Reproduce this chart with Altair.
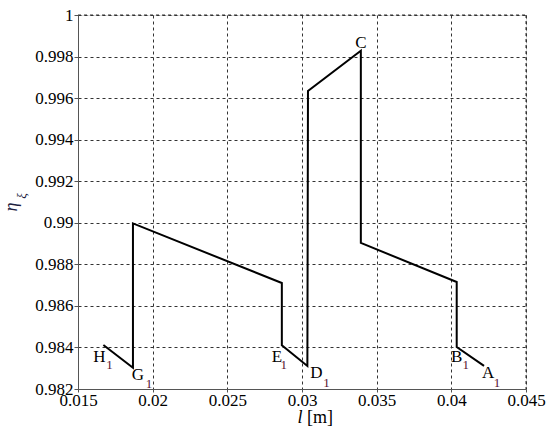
import altair as alt
import pandas as pd

# path of the curve (l [m], eta)
path_l = [0.0167, 0.01868, 0.01868, 0.02865, 0.02865, 0.03036, 0.0304, 0.03394, 0.03394, 0.04036, 0.04036, 0.04219]
path_eta = [0.98412, 0.98302, 0.98997, 0.98710, 0.98410, 0.98311, 0.99634, 0.99828, 0.98903, 0.98715, 0.98402, 0.98311]

# labelled points
lab_name = ["H", "G", "E", "D", "C", "B", "A"]
lab_sub = ["1", "1", "1", "1", "", "1", "1"]
lab_l = [0.0167, 0.01868, 0.02865, 0.03036, 0.03394, 0.04036, 0.04219]
lab_eta = [0.98412, 0.98302, 0.98410, 0.98311, 0.99828, 0.98402, 0.98311]

x_ticks = [0.015, 0.02, 0.025, 0.03, 0.035, 0.04, 0.045]
y_ticks = [0.982, 0.984, 0.986, 0.988, 0.99, 0.992, 0.994, 0.996, 0.998, 1.0]

# label offsets (px): letter and subscript
letter_off = [(-4, 12), (5, 7), (-5, 12), (9, 7), (0, -8), (0, 10), (4, 7)]
sub_off = [(6, 20), (16, 16), (2, 20), (19, 17), (0, 0), (9, 18), (13, 17)]

FONT = "Liberation Serif"
W, H = 448, 374

df = pd.DataFrame({"l": path_l, "eta": path_eta, "order": list(range(len(path_l)))})

xs = alt.Scale(domain=[0.015, 0.045], nice=False, zero=False)
ys = alt.Scale(domain=[0.982, 1.0], nice=False, zero=False)

x_axis = alt.Axis(values=x_ticks, format="~g", title=None, grid=True,
                  gridDash=[3, 3], gridColor="#333333", gridOpacity=1, gridWidth=1,
                  domainColor="#555555", tickColor="#555555", tickSize=3,
                  labelFont=FONT, labelFontSize=17, labelColor="black", labelPadding=0,
                  labelFlush=False)
y_axis = alt.Axis(values=y_ticks, format="~g", title=None, grid=True,
                  gridDash=[3, 3], gridColor="#333333", gridOpacity=1, gridWidth=1,
                  domainColor="#555555", tickColor="#555555", tickSize=4,
                  labelFont=FONT, labelFontSize=17, labelColor="black", labelPadding=1,
                  labelFlush=False)

line = alt.Chart(df).mark_line(color="black", strokeWidth=2).encode(
    x=alt.X("l:Q", scale=xs, axis=x_axis),
    y=alt.Y("eta:Q", scale=ys, axis=y_axis),
    order="order:Q",
)

# top/right dashed border lines
border = alt.Chart(pd.DataFrame({"a": [0]})).mark_rule(strokeDash=[3, 3], color="#333333").encode(
    x=alt.value(0), x2=alt.value(W), y=alt.value(0))
border2 = alt.Chart(pd.DataFrame({"a": [0]})).mark_rule(strokeDash=[3, 3], color="#333333").encode(
    x=alt.value(W), y=alt.value(0), y2=alt.value(H))

layers = [border, border2, line]
for i in range(len(lab_name)):
    d = pd.DataFrame({"l": [lab_l[i]], "eta": [lab_eta[i]], "t": [lab_name[i]]})
    layers.append(alt.Chart(d).mark_text(font=FONT, fontSize=17, color="black", baseline="middle",
                                         dx=letter_off[i][0], dy=letter_off[i][1]).encode(
        x=alt.X("l:Q", scale=xs), y=alt.Y("eta:Q", scale=ys), text="t:N"))
    if lab_sub[i]:
        d2 = pd.DataFrame({"l": [lab_l[i]], "eta": [lab_eta[i]], "t": [lab_sub[i]]})
        layers.append(alt.Chart(d2).mark_text(font=FONT, fontSize=13, color="#5a1030", baseline="middle",
                                              dx=sub_off[i][0], dy=sub_off[i][1]).encode(
            x=alt.X("l:Q", scale=xs), y=alt.Y("eta:Q", scale=ys), text="t:N"))

# axis titles
tdf = pd.DataFrame({"a": [0]})
layers.append(alt.Chart(tdf).mark_text(font=FONT, fontSize=18, fontStyle="italic", angle=270,
                                       color="#202040", baseline="middle").encode(
    x=alt.value(-66), y=alt.value(192), text=alt.value("η")))
layers.append(alt.Chart(tdf).mark_text(font=FONT, fontSize=13, fontStyle="italic", angle=270,
                                       color="#202040", baseline="middle").encode(
    x=alt.value(-56), y=alt.value(181), text=alt.value("ξ")))
layers.append(alt.Chart(tdf).mark_text(font=FONT, fontSize=18, fontStyle="italic",
                                       color="black", baseline="middle").encode(
    x=alt.value(222), y=alt.value(29 + H), text=alt.value("l")))
layers.append(alt.Chart(tdf).mark_text(font=FONT, fontSize=18, color="black", baseline="middle",
                                       align="left").encode(
    x=alt.value(229), y=alt.value(29 + H), text=alt.value("[m]")))

chart = alt.layer(*layers).properties(
    width=W, height=H,
    autosize=alt.AutoSizeParams(type="none"),
    padding={"left": 78, "top": 15, "right": 20, "bottom": 38},
    background="white",
).configure_view(stroke=None).configure_axis(labelFont=FONT).configure(font=FONT)

chart.save("out.html", embed_options={"renderer": "svg", "actions": False})
